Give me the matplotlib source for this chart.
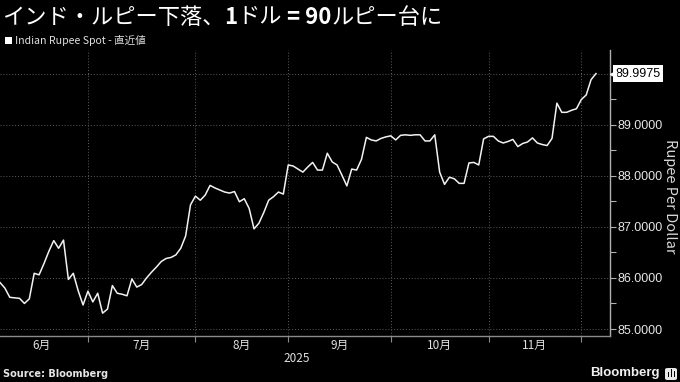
import matplotlib
matplotlib.use('Agg')
import matplotlib.pyplot as plt
import numpy as np
import matplotlib.transforms as mtransforms
from matplotlib.patches import FancyBboxPatch, Rectangle

# ---------------- data ----------------
values = [
    85.91, 85.80, 85.62, 85.61, 85.60, 85.50, 85.59, 86.09, 86.06, 86.28,
    86.52, 86.73, 86.58, 86.74, 85.97, 86.09, 85.75, 85.47, 85.74, 85.53,
    85.70, 85.31, 85.39, 85.85, 85.70, 85.68, 85.65, 85.98, 85.82, 85.87,
    86.00, 86.11, 86.21, 86.32, 86.38, 86.40, 86.45, 86.58, 86.82, 87.43,
    87.60, 87.52, 87.62, 87.81, 87.76, 87.72, 87.68, 87.66, 87.69, 87.49,
    87.55, 87.36, 86.96, 87.07, 87.28, 87.52, 87.59, 87.68, 87.64, 88.21,
    88.19, 88.13, 88.07, 88.17, 88.26, 88.11, 88.11, 88.44, 88.27, 88.21,
    88.01, 87.80, 88.13, 88.11, 88.32, 88.75, 88.70, 88.68, 88.73, 88.76,
    88.78, 88.70, 88.79, 88.80, 88.79, 88.80, 88.80, 88.68, 88.68, 88.80,
    88.07, 87.83, 87.97, 87.94, 87.85, 87.85, 88.25, 88.26, 88.21, 88.72,
    88.77, 88.77, 88.68, 88.64, 88.67, 88.71, 88.57, 88.63, 88.66, 88.74,
    88.64, 88.61, 88.59, 88.73, 89.42, 89.24, 89.24, 89.28, 89.31, 89.49,
    89.58, 89.88, 89.9975,
]
month_labels = ['6月', '7月', '8月', '9月', '10月', '11月']
month_bounds = [-1, 18, 40, 59, 80, 100, 119]   # index of first trading day of each month
y_major = [85, 86, 87, 88, 89, 90]
y_minor = [85.5, 86.5, 87.5, 88.5, 89.5]
title_parts = [('インド・ルピー下落、', 'normal'), ('1', 'bold'), ('ドル', 'normal'),
               (' = 90', 'bold'), ('ルピー台に', 'normal')]
series_name = 'Indian Rupee Spot - 直近値'
y_label = 'Rupee Per Dollar'
year_label = '2025'
source_text = 'Source: Bloomberg'
last_value = values[-1]

plt.rcParams['font.family'] = ['Noto Sans CJK JP', 'DejaVu Sans']

W, H = 680, 382
fig = plt.figure(figsize=(W / 100, H / 100), dpi=100, facecolor='black')

def fx(px):
    return px / W

def fy(py):
    return 1 - py / H

ax_left, ax_right, ax_top, ax_bot = 0, 610, 50, 335.5
ax = fig.add_axes([fx(ax_left), fy(ax_bot), fx(ax_right - ax_left), (ax_bot - ax_top) / H])
ax.set_facecolor('black')

x = np.arange(len(values))
px_per_pt = 4.885
ax.set_xlim(0, (ax_right - ax_left) / px_per_pt)
y_px = 51.1
ax.set_ylim(85 + (329 - ax_bot) / y_px, 85 + (329 - ax_top) / y_px)

grid_kw = dict(color='#5c5c5c', lw=0.7, linestyle=(0, (1, 2)), zorder=1)
for yv in y_major:
    ax.axhline(yv, **grid_kw)
for xb in month_bounds[1:]:
    ax.axvline(xb, **grid_kw)

ax.plot(x, values, color='#f2f2f2', lw=1.1, zorder=3, solid_joinstyle='round')

# spines
for s in ['top', 'left']:
    ax.spines[s].set_visible(False)
ax.spines['right'].set_color('#b0b0b0')
ax.spines['right'].set_linewidth(1.0)
ax.spines['bottom'].set_color('#8a8a8a')
ax.spines['bottom'].set_linewidth(1.0)

# y ticks on right
ax.yaxis.tick_right()
ax.set_yticks(y_major)
ax.set_yticklabels(['%.4f' % v if v != 90 else '' for v in y_major])
ax.set_yticks(y_minor, minor=True)
ax.tick_params(axis='y', which='both', direction='out', length=4, width=0.8,
               color='#b0b0b0', labelcolor='#e6e6e6', labelsize=9, pad=1.5)
for lab in ax.get_yticklabels():
    lab.set_family(['Liberation Sans'])

# x ticks at month boundaries
ax.set_xticks(month_bounds[1:])
ax.set_xticklabels([])
ax.tick_params(axis='x', which='both', direction='out', length=4, width=0.8, color='#8a8a8a')

# month labels
bt = mtransforms.blended_transform_factory(ax.transData, ax.transAxes)
for i, lab in enumerate(month_labels):
    mid = (month_bounds[i] + month_bounds[i + 1]) / 2
    ax.text(mid, -(345 - ax_bot) / (ax_bot - ax_top), lab, transform=bt, ha='center', va='center',
            fontsize=8.5, color='#e0e0e0')
fig.text(fx(297), fy(358), year_label, ha='center', va='center', fontsize=8.5, color='#e0e0e0')

# last value box
rt = mtransforms.blended_transform_factory(ax.transAxes, ax.transData)
ax.text(1.0085, last_value, '%.4f' % last_value, transform=rt, ha='left', va='center',
        fontsize=9, color='black', family=['Liberation Sans'], clip_on=False,
        bbox=dict(boxstyle='square,pad=0.18', fc='white', ec='none'), zorder=5)
ax.plot([1.0045], [last_value], marker='<', ms=4.5, color='white', transform=rt, clip_on=False,
        zorder=5)

# y label
fig.text(fx(670), fy(196), y_label, rotation=270, ha='center', va='center', fontsize=10.5,
         color='#d8d8d8')

# title with mixed weights
renderer = fig.canvas.get_renderer()
cx = 2
for txt, wt in title_parts:
    t = fig.text(fx(cx), fy(17), txt, ha='left', va='center', fontsize=16, color='white',
                 fontweight=wt)
    bb = t.get_window_extent(renderer=renderer)
    cx += bb.width

# legend
fig.patches.append(Rectangle((fx(5), fy(43.5)), fx(6.5), 6.5 / H, transform=fig.transFigure,
                             facecolor='white', edgecolor='none'))
fig.text(fx(15), fy(40.5), series_name, ha='left', va='center', fontsize=7.6, color='#e0e0e0')

# footer
fig.text(fx(3), fy(374), source_text, ha='left', va='center', fontsize=7, fontweight='bold',
         color='#e6e6e6', family=['DejaVu Sans'])
fig.text(fx(660), fy(373), 'Bloomberg', ha='right', va='center', fontsize=9.5, fontweight='bold',
         color='#f0f0f0', family=['Liberation Sans'])
fig.patches.append(FancyBboxPatch((fx(665), fy(380)), fx(12), 12 / H,
                                  boxstyle='round,pad=0,rounding_size=0.004',
                                  transform=fig.transFigure, facecolor='#e8e8e8', edgecolor='none'))
for bx, bh in [(667.5, 5), (670.5, 8), (673.5, 6)]:
    fig.patches.append(Rectangle((fx(bx), fy(377)), fx(1.6), bh / H, transform=fig.transFigure,
                                 facecolor='black', edgecolor='none'))

fig.savefig('out.png', dpi=100, facecolor='black')
